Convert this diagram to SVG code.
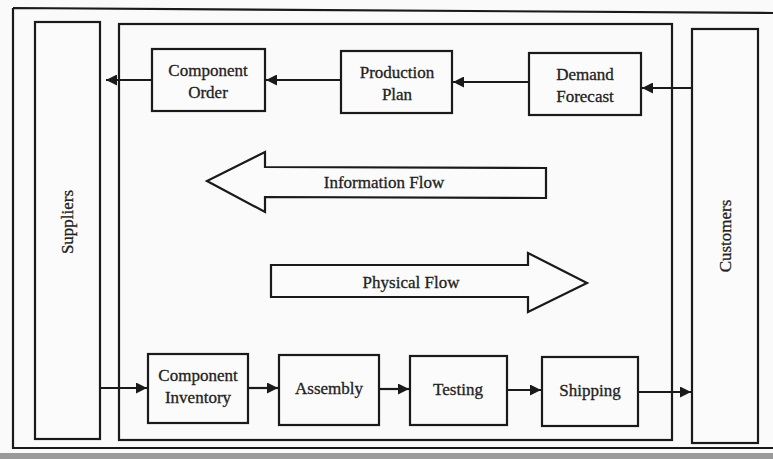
<svg xmlns="http://www.w3.org/2000/svg" width="773" height="459" viewBox="0 0 773 459">
<defs>
<marker id="ah" viewBox="0 0 10 10" refX="10" refY="5" markerWidth="5" markerHeight="5" orient="auto" markerUnits="strokeWidth"><path d="M0,0 L10,5 L0,10 z" fill="#1a1a1a"/></marker>
<style>
.box{fill:none;stroke:#1a1a1a;stroke-width:2.2}
.node{fill:#fbfbfb;stroke:#1a1a1a;stroke-width:2.2}
.c{fill:none;stroke:#1a1a1a;stroke-width:2.2;marker-end:url(#ah)}
text{font-family:"Liberation Serif","Times New Roman",serif;font-size:17px;fill:#222;text-anchor:middle;stroke:#222;stroke-width:0.3}
</style>
</defs>
<rect width="773" height="459" fill="#fafafa"/>
<rect x="0" y="453" width="773" height="6" fill="#9a9a9a"/>
<g id="frame">
<path class="box" d="M13,8 L773,13 M13,8 L13,448 L773,448"/>
</g>
<g id="supply-chain">
<rect class="box" x="119" y="24" width="553" height="416"/>
</g>
<g id="suppliers">
<rect class="node" x="35" y="22" width="65" height="417"/>
<text transform="translate(73,222) rotate(-90)">Suppliers</text>
</g>
<g id="customers">
<rect class="node" x="692" y="29" width="66" height="414"/>
<text transform="translate(731,236) rotate(-90)">Customers</text>
</g>
<g id="component-order">
<rect class="node" x="152" y="49" width="113" height="62"/>
<text x="208" y="76">Component</text><text x="208" y="98">Order</text>
</g>
<g id="production-plan">
<rect class="node" x="341" y="51" width="111" height="62"/>
<text x="397" y="78">Production</text><text x="397" y="100">Plan</text>
</g>
<g id="demand-forecast">
<rect class="node" x="529" y="53" width="112" height="62"/>
<text x="585" y="80">Demand</text><text x="585" y="102">Forecast</text>
</g>
<g id="information-flow">
<path class="node" d="M546,168 L546,198 L265,197 L265,212 L207,181 L265,152 L265,167 Z"/>
<text x="384" y="188">Information Flow</text>
</g>
<g id="physical-flow">
<path class="node" d="M271,265 L528,265 L528,253 L587,283 L528,312 L528,297 L271,297 Z"/>
<text x="411" y="288">Physical Flow</text>
</g>
<g id="component-inventory">
<rect class="node" x="148" y="354" width="100" height="69"/>
<text x="198" y="381">Component</text><text x="198" y="403">Inventory</text>
</g>
<g id="assembly">
<rect class="node" x="279" y="355" width="100" height="70"/>
<text x="329" y="394">Assembly</text>
</g>
<g id="testing">
<rect class="node" x="410" y="356" width="97" height="69"/>
<text x="458" y="395">Testing</text>
</g>
<g id="shipping">
<rect class="node" x="542" y="357" width="96" height="69"/>
<text x="590" y="396">Shipping</text>
</g>
<g id="connectors">
<line class="c" x1="692" y1="88" x2="642" y2="88"/>
<line class="c" x1="529" y1="82" x2="453" y2="82"/>
<line class="c" x1="341" y1="80" x2="266" y2="80"/>
<line class="c" x1="152" y1="80" x2="106" y2="80"/>
<line class="c" x1="100" y1="388" x2="147" y2="388"/>
<line class="c" x1="248" y1="388" x2="278" y2="388"/>
<line class="c" x1="379" y1="389" x2="409" y2="389"/>
<line class="c" x1="507" y1="390" x2="541" y2="390"/>
<line class="c" x1="638" y1="392" x2="691" y2="392"/>
</g>
</svg>
